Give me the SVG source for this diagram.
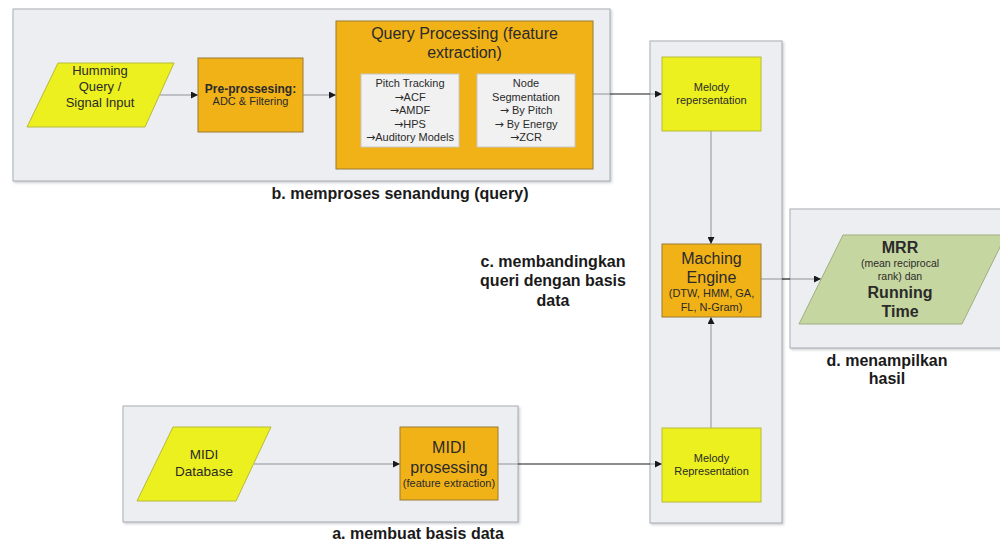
<svg xmlns="http://www.w3.org/2000/svg" width="1000" height="543" viewBox="0 0 1000 543">
  <defs>
    <marker id="arrow" viewBox="0 0 10 10" refX="10" refY="5" markerWidth="8" markerHeight="7" markerUnits="userSpaceOnUse" orient="auto">
      <path d="M0,0 L10,5 L0,10 z" fill="#1a1a1a"/>
    </marker>
    <filter id="shadow" x="-5%" y="-5%" width="110%" height="110%">
      <feDropShadow dx="1.5" dy="1.5" stdDeviation="1" flood-color="#9aa0a8" flood-opacity="0.5"/>
    </filter>
  </defs>
  <style>
    .panel { fill: #eceef2; stroke: #a9adb3; stroke-width: 1; filter: url(#shadow); }
    .yellow { fill: #ecf01e; stroke: #b8ba3a; stroke-width: 1; }
    .orange { fill: #f1b218; stroke: #9a7a30; stroke-width: 1; }
    .inner { fill: #f1f1f1; stroke: #c8c8c8; stroke-width: 1; }
    .green { fill: #c6d6a0; stroke: #9fae80; stroke-width: 1; }
    text { font-family: "Liberation Sans", Arial, sans-serif; text-anchor: middle; fill: #2a2a2a; }
    .t11 { font-size: 11px; }
    .t13 { font-size: 13px; }
    .t16 { font-size: 16px; }
    .b { font-weight: bold; }
    .arr { font-family: "DejaVu Sans", sans-serif; font-size: 11px; }
    .lbl { font-size: 16px; font-weight: bold; fill: #1a1a1a; }
    .cin { fill: none; stroke: #8e9298; stroke-width: 1; }
    .cout { fill: none; stroke: #1a1a1a; stroke-width: 1.2; }
  </style>

  <rect width="1000" height="543" fill="#ffffff"/>

  <!-- stage panels -->
  <g id="panels">
    <rect id="panel-b" class="panel" x="13" y="9" width="597" height="172"/>
    <rect id="panel-c" class="panel" x="650" y="41" width="132" height="482"/>
    <rect id="panel-d" class="panel" x="790" y="209" width="212" height="139"/>
    <rect id="panel-a" class="panel" x="123" y="406" width="395" height="116"/>
  </g>

  <!-- connectors -->
  <g id="connectors">
    <path class="cin" d="M160,95 H198" marker-end="url(#arrow)"/>
    <path class="cin" d="M303,95 H336" marker-end="url(#arrow)"/>
    <path class="cin" d="M593,94 H610"/>
    <path class="cout" d="M610,94 H650"/>
    <path class="cin" d="M650,94 H662" marker-end="url(#arrow)"/>
    <path class="cin" d="M711,131 V244" marker-end="url(#arrow)"/>
    <path class="cin" d="M711,428 V317" marker-end="url(#arrow)"/>
    <path class="cin" d="M254,464 H400" marker-end="url(#arrow)"/>
    <path class="cin" d="M498,464 H518"/>
    <path class="cout" d="M518,464 H650"/>
    <path class="cin" d="M650,464 H662" marker-end="url(#arrow)"/>
    <path class="cin" d="M761,279 H782"/>
    <path class="cout" d="M782,279 H790"/>
    <path class="cin" d="M790,279 H821" marker-end="url(#arrow)"/>
  </g>

  <!-- b. query processing -->
  <g id="humming-input">
    <polygon class="yellow" points="58,63 174,63 145,127 27,127"/>
    <text class="t13" x="100" y="75">Humming</text>
    <text class="t13" x="100" y="91">Query /</text>
    <text class="t13" x="100" y="107">Signal Input</text>
  </g>
  <g id="pre-processing">
    <rect class="orange" x="198" y="58" width="105" height="74"/>
    <text class="b" x="250.5" y="93" font-size="12">Pre-prossesing:</text>
    <text class="t11" x="250.5" y="105" fill="#3a2c14">ADC &amp; Filtering</text>
  </g>
  <g id="query-processing">
    <rect class="orange" x="336" y="21" width="257" height="148"/>
    <text class="t16" x="464.5" y="39">Query Processing (feature</text>
    <text class="t16" x="464.5" y="58">extraction)</text>
    <rect class="inner" x="361" y="74" width="98" height="73"/>
    <text class="t11" x="410" y="87">Pitch Tracking</text>
    <text class="t11" x="410" y="100.5"><tspan class="arr">→</tspan>ACF</text>
    <text class="t11" x="410" y="114"><tspan class="arr">→</tspan>AMDF</text>
    <text class="t11" x="410" y="127.5"><tspan class="arr">→</tspan>HPS</text>
    <text class="t11" x="410" y="141"><tspan class="arr">→</tspan>Auditory Models</text>
    <rect class="inner" x="477" y="74" width="98" height="73"/>
    <text class="t11" x="526" y="87">Node</text>
    <text class="t11" x="526" y="100.5">Segmentation</text>
    <text class="t11" x="526" y="114"><tspan class="arr">→</tspan> By Pitch</text>
    <text class="t11" x="526" y="127.5"><tspan class="arr">→</tspan> By Energy</text>
    <text class="t11" x="526" y="141"><tspan class="arr">→</tspan>ZCR</text>
  </g>

  <!-- c. matching -->
  <g id="melody-query">
    <rect class="yellow" x="662" y="57" width="99" height="74"/>
    <text class="t11" x="711.5" y="91">Melody</text>
    <text class="t11" x="711.5" y="104">repersentation</text>
  </g>
  <g id="matching-engine">
    <rect class="orange" x="662" y="244" width="99" height="73"/>
    <text class="t16" x="711.5" y="264">Maching</text>
    <text class="t16" x="711.5" y="283">Engine</text>
    <text class="t11" x="711.5" y="297">(DTW, HMM, GA,</text>
    <text class="t11" x="711.5" y="311">FL, N-Gram)</text>
  </g>
  <g id="melody-database">
    <rect class="yellow" x="662" y="428" width="99" height="74"/>
    <text class="t11" x="711.5" y="462">Melody</text>
    <text class="t11" x="711.5" y="475">Representation</text>
  </g>

  <!-- d. results -->
  <g id="result">
    <polygon class="green" points="843,235 1006,235 962,324 799,324"/>
    <text class="b t16" x="900" y="253">MRR</text>
    <text x="900" y="267" font-size="10.5" fill="#4a4a3a">(mean reciprocal</text>
    <text x="900" y="280" font-size="10.5" fill="#4a4a3a">rank) dan</text>
    <text class="b t16" x="900" y="298">Running</text>
    <text class="b t16" x="900" y="317">Time</text>
  </g>

  <!-- a. database -->
  <g id="midi-database">
    <polygon class="yellow" points="173,427 271,427 236,501 137,501"/>
    <text x="204" y="459" font-size="13.5">MIDI</text>
    <text x="204" y="476" font-size="13.5">Database</text>
  </g>
  <g id="midi-processing">
    <rect class="orange" x="400" y="427" width="98" height="73"/>
    <text class="t16" x="449" y="453">MIDI</text>
    <text class="t16" x="449" y="473">prosessing</text>
    <text class="t11" x="449" y="487">(feature extraction)</text>
  </g>

  <!-- stage captions -->
  <g id="captions">
    <text class="lbl" x="400" y="199">b. memproses senandung (query)</text>
    <text class="lbl" x="553" y="267">c. membandingkan</text>
    <text class="lbl" x="553" y="286">queri dengan basis</text>
    <text class="lbl" x="553" y="306">data</text>
    <text class="lbl" x="887" y="366">d. menampilkan</text>
    <text class="lbl" x="887" y="384">hasil</text>
    <text class="lbl" x="418" y="539">a. membuat basis data</text>
  </g>
</svg>
